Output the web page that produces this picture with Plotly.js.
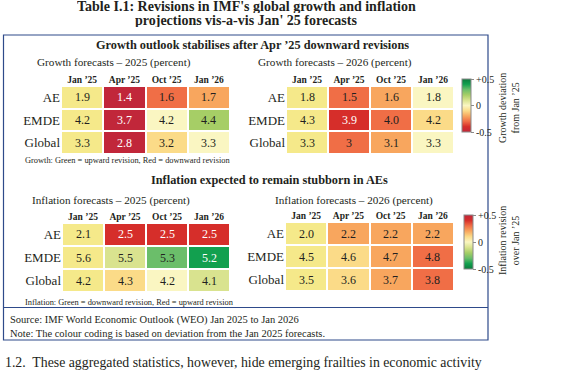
<!DOCTYPE html>
<html>
<head>
<meta charset="utf-8">
<script src="https://cdn.plot.ly/plotly-3.0.1.min.js"></script>
<style>
html,body{margin:0;padding:0;background:#fff;}
#chart{width:563px;height:370px;}
</style>
</head>
<body>
<div id="chart"></div>
<script>
// ---------- DATA ----------
const columns = ['Jan ’25', 'Apr ’25', 'Oct ’25', 'Jan ’26'];
const regions = ['AE', 'EMDE', 'Global'];

const growth2025 = [[1.9, 1.4, 1.6, 1.7], [4.2, 3.7, 4.2, 4.4], [3.3, 2.8, 3.2, 3.3]];
const growth2025Text = [['1.9', '1.4', '1.6', '1.7'], ['4.2', '3.7', '4.2', '4.4'], ['3.3', '2.8', '3.2', '3.3']];

const growth2026 = [[1.8, 1.5, 1.6, 1.8], [4.3, 3.9, 4.0, 4.2], [3.3, 3.0, 3.1, 3.3]];
const growth2026Text = [['1.8', '1.5', '1.6', '1.8'], ['4.3', '3.9', '4.0', '4.2'], ['3.3', '3', '3.1', '3.3']];

const inflation2025 = [[2.1, 2.5, 2.5, 2.5], [5.6, 5.5, 5.3, 5.2], [4.2, 4.3, 4.2, 4.1]];
const inflation2025Text = [['2.1', '2.5', '2.5', '2.5'], ['5.6', '5.5', '5.3', '5.2'], ['4.2', '4.3', '4.2', '4.1']];

const inflation2026 = [[2.0, 2.2, 2.2, 2.2], [4.5, 4.6, 4.7, 4.8], [3.5, 3.6, 3.7, 3.8]];
const inflation2026Text = [['2.0', '2.2', '2.2', '2.2'], ['4.5', '4.6', '4.7', '4.8'], ['3.5', '3.6', '3.7', '3.8']];

const colorbarTickVals = [-0.5, 0, 0.5];
const colorbarTickText = ['-0.5', '0', '+0.5'];

// ---------- STYLE ----------
const W = 563, H = 370;
const SERIF = '"Liberation Serif", "DejaVu Serif", serif';
const INK = '#231f20';
const px = x => x / W;
const py = y => 1 - y / H;

const growthScale = [
  [0.0, '#C1273A'], [0.1, '#D62E2A'], [0.2, '#F06E46'], [0.3, '#F8A65E'],
  [0.4, '#FBDB88'], [0.5, '#FAF6C2'], [0.6, '#D9E38F'], [0.7, '#A6CE66'],
  [0.8, '#6BBE6A'], [0.9, '#12A04F'], [1.0, '#0B7A3C']
];
const inflationScale = growthScale.map(([p, c]) => [Math.round((1 - p) * 10) / 10, c]).reverse();
const baseColor = '#F5E98A';

const panels = [
  {vals: growth2025, text: growth2025Text, scale: growthScale, xd: [61, 230], yd: [86, 154], cb: null},
  {vals: growth2026, text: growth2026Text, scale: growthScale, xd: [286, 454], yd: [86, 154],
   cb: {x: 462, ymid: 105.5, len: 53}},
  {vals: inflation2025, text: inflation2025Text, scale: inflationScale, xd: [62, 230], yd: [223, 292], cb: null},
  {vals: inflation2026, text: inflation2026Text, scale: inflationScale, xd: [285, 454], yd: [222, 291],
   cb: {x: 464, ymid: 242, len: 54}}
];

const traces = [];
const annotations = [];
const layout = {
  width: W, height: H,
  margin: {l: 0, r: 0, t: 0, b: 0},
  paper_bgcolor: '#fff', plot_bgcolor: '#fff',
  showlegend: false,
  font: {family: SERIF, color: INK},
  shapes: [],
  annotations: annotations
};

panels.forEach((p, i) => {
  const n = i === 0 ? '' : String(i + 1);
  const xa = 'x' + n, ya = 'y' + n;
  const dev = p.vals.map(r => r.map((v, j) => j === 0 ? null : Math.round((v - r[0]) * 10) / 10));
  const base = p.vals.map(r => r.map((v, j) => j === 0 ? v : null));

  traces.push({
    type: 'heatmap', x: columns, y: regions, z: base,
    colorscale: [[0, baseColor], [1, baseColor]], showscale: false,
    xgap: 2, ygap: 2, hoverinfo: 'skip', xaxis: xa, yaxis: ya
  });
  const t = {
    type: 'heatmap', x: columns, y: regions, z: dev,
    colorscale: p.scale, zmin: -0.5, zmax: 0.5, showscale: !!p.cb,
    xgap: 2, ygap: 2, hoverinfo: 'skip', xaxis: xa, yaxis: ya
  };
  if (p.cb) {
    t.colorbar = {
      x: px(p.cb.x), xanchor: 'left', xref: 'paper', xpad: 0,
      y: py(p.cb.ymid), yanchor: 'middle', yref: 'paper', ypad: 0,
      len: p.cb.len, lenmode: 'pixels', thickness: 9, thicknessmode: 'pixels',
      outlinewidth: 1, outlinecolor: '#8a8a8a',
      tickvals: colorbarTickVals, ticktext: colorbarTickText,
      ticks: 'outside', ticklen: 3, tickcolor: '#8a8a8a',
      tickfont: {family: SERIF, size: 10, color: INK}
    };
  }
  traces.push(t);

  layout['xaxis' + n] = {
    domain: [px(p.xd[0]), px(p.xd[1])], anchor: ya,
    type: 'category', categoryorder: 'array', categoryarray: columns,
    range: [-0.5, 3.5], side: 'top', showgrid: false, zeroline: false, showline: false,
    ticks: '', tickfont: {family: SERIF, size: 9.5, color: INK, weight: 'bold'}, fixedrange: true
  };
  layout['yaxis' + n] = {
    domain: [py(p.yd[1]), py(p.yd[0])], anchor: xa,
    type: 'category', categoryorder: 'array', categoryarray: regions,
    range: [2.5, -0.5], showgrid: false, zeroline: false, showline: false,
    ticks: '', tickfont: {family: SERIF, size: 13, color: INK}, fixedrange: true
  };

  p.vals.forEach((r, ri) => r.forEach((v, ci) => {
    const d = dev[ri][ci];
    const strong = d !== null && Math.abs(d) >= 0.4;
    annotations.push({
      xref: xa, yref: ya, x: columns[ci], y: regions[ri],
      text: p.text[ri][ci], showarrow: false,
      font: {family: SERIF, size: 12, color: strong ? '#ffffff' : INK}
    });
  }));
});

function label(text, x, y, size, opts) {
  annotations.push(Object.assign({
    xref: 'paper', yref: 'paper', x: px(x), y: py(y), text: text, showarrow: false,
    xanchor: 'center', yanchor: 'middle',
    font: {family: SERIF, size: size, color: INK}
  }, opts || {}));
}

// Titles and texts
label('<b>Table I.1: Revisions in IMF\'s global growth and inflation</b>', 246, 6, 14, {yanchor: 'middle', height: 13});
label('<b>projections vis-a-vis Jan\' 25 forecasts</b>', 246, 21, 14, {yanchor: 'middle', height: 13});
label('<b>Growth outlook stabilises after Apr ’25 downward revisions</b>', 252, 45, 12.3);
label('Growth forecasts – 2025 (percent)', 114, 62, 11.2);
label('Growth forecasts – 2026 (percent)', 335, 62, 11.2);
label('Growth: Green = upward revision, Red = downward revision', 23, 160, 8.4, {xanchor: 'left'});
label('<b>Inflation expected to remain stubborn in AEs</b>', 269, 180, 12.3);
label('Inflation forecasts – 2025 (percent)', 111, 200, 11.2);
label('Inflation forecasts – 2026 (percent)', 354, 200, 11.2);
label('Inflation: Green = downward revision, Red = upward revision', 23, 302, 8.4, {xanchor: 'left'});
label('Source: IMF World Economic Outlook (WEO) Jan 2025 to Jan 2026', 8, 320, 10.5, {xanchor: 'left'});
label('Note: The colour coding is based on deviation from the Jan 2025 forecasts.', 8, 333, 10.5, {xanchor: 'left'});
label('1.2.  These aggregated statistics, however, hide emerging frailties in economic activity', 3, 362, 13.8, {xanchor: 'left'});

// Colorbar titles (rotated)
label('Growth deviation<br>from Jan ’25', 509, 108, 10, {textangle: -90});
label('Inflation revision<br>over Jan ’25', 509, 241, 10, {textangle: -90});

// Box
layout.shapes.push({type: 'rect', xref: 'paper', yref: 'paper', x0: px(3.5), x1: px(488), y0: py(35), y1: py(340),
  line: {color: '#2E4A8A', width: 1.2}});
layout.shapes.push({type: 'line', xref: 'paper', yref: 'paper', x0: px(3.5), x1: px(488), y0: py(307.5), y1: py(307.5),
  line: {color: '#2E4A8A', width: 1.2}});

Plotly.newPlot('chart', traces, layout, {staticPlot: true, displayModeBar: false});
</script>
</body>
</html>
